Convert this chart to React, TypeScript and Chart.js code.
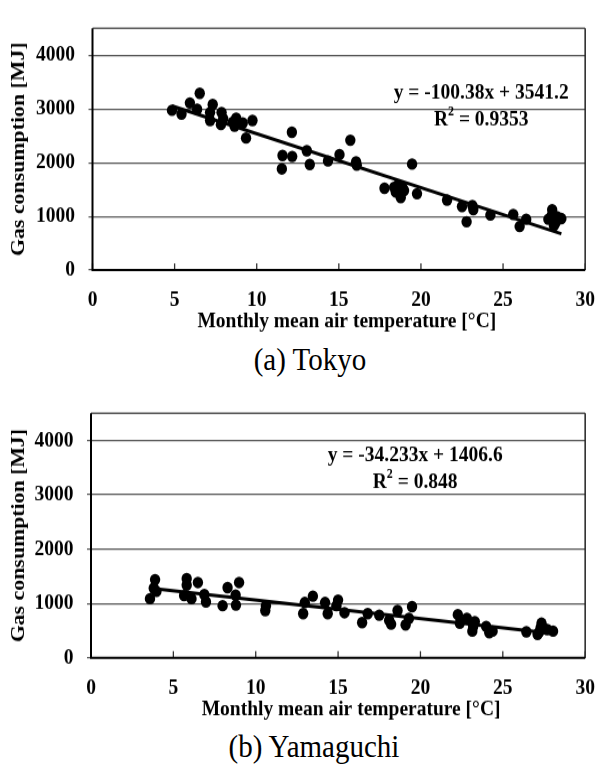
import React, { useEffect, useRef } from "react";
import { Chart, registerables } from "chart.js";

Chart.register(...registerables);

// ---------- data ----------
const xTickValues = [0, 5, 10, 15, 20, 25, 30];
const yTickValues = [0, 1000, 2000, 3000, 4000];

const tokyoTemp = [
  4.84, 5.42, 5.93, 6.53, 6.37, 7.32, 7.16, 7.16, 7.86, 7.82, 7.96, 8.55, 8.75, 8.65, 9.15, 9.74, 9.35,
  12.14, 11.57, 12.16, 11.53, 13.05, 13.23, 14.34, 15.04, 15.7, 16.05, 16.09, 19.46, 17.78, 18.37, 18.47,
  18.87, 18.77, 18.97, 18.6, 19.76, 21.59, 22.5, 22.78, 23.13, 23.19, 24.23, 25.62, 26.01, 26.41, 27.99,
  27.95, 27.76, 28.2, 28.55, 28.29, 28.1,
];
const tokyoGas = [
  2974, 2903, 3111, 3289, 2992, 3081, 2933, 2785, 2933, 2708, 2815, 2755, 2826, 2678, 2737, 2785, 2458,
  2566, 2133, 2115, 1884, 2222, 1967, 2031, 2151, 2418, 2014, 1955, 1973, 1523, 1541, 1452,
  1541, 1351, 1481, 1580, 1422, 1303, 1185, 901, 1203, 1125, 1025, 1037, 812, 947, 1125,
  1010, 947, 888, 959, 995, 830,
];

const yamaguchiTemp = [
  3.89, 3.81, 3.97, 3.58, 5.81, 5.81, 5.65, 6.1, 6.49, 6.88, 6.98, 7.99, 8.29, 8.78, 8.8, 8.99, 10.62,
  10.58, 12.88, 12.98, 13.47, 14.21, 14.37, 15.0, 14.9, 15.39, 16.46, 16.8, 17.5, 18.22, 18.1, 18.61,
  19.1, 19.3, 19.49, 22.27, 22.39, 22.82, 23.15, 23.3, 23.2, 23.99, 24.18, 24.38, 26.43, 27.11, 27.35,
  27.47, 27.7, 28.05, 27.3, 27.2,
];
const yamaguchiGas = [
  1439, 1281, 1222, 1088, 1456, 1339, 1146, 1088, 1386, 1164, 1029, 959, 1292, 1152, 971, 1386, 959,
  871, 813, 1018, 1135, 1018, 813, 1064, 959, 830, 649, 813, 784, 620, 690, 871,
  608, 725, 941, 795, 637, 725, 491, 667, 575, 579, 461, 491, 479, 433, 637,
  549, 520, 491, 560, 470,
];

// regression shown in the picture
const tokyoFit = [-100.38, 3541.2];
const yamaguchiFit = [-34.233, 1406.6];
const tokyoEquation = "y = -100.38x + 3541.2";
const tokyoR2 = "0.9353";
const yamaguchiEquation = "y = -34.233x + 1406.6";
const yamaguchiR2 = "0.848";

const xTitle = "Monthly mean air temperature [°C]";
const yTitle = "Gas consumption [MJ]";

// ---------- component ----------
const SERIF = '"Liberation Serif", "Times New Roman", serif';
const FS = 19.5;
const LH = FS * 1.2;
const STRETCH = 1.12; // the figure is slightly stretched vertically

type PanelProps = {
  temps: number[];
  gas: number[];
  fit: number[];
  equation: string;
  r2: string;
  top: number;
  plotTop: number;
  plotBottom: number;
  labelCenter: number;
  titleCenter: number;
  areaLeft: number;
  areaRight: number;
  titleDx: number;
  eqX: number;
  eqY: number;
  r2Y: number;
};

const decorPlugin = {
  id: "decor",
  beforeDatasetsDraw(chart: any) {
    const { ctx, chartArea: a, scales } = chart;
    const xs = scales.x;
    ctx.save();
    ctx.strokeStyle = "#555";
    ctx.lineWidth = 1.4;
    ctx.beginPath();
    ctx.moveTo(a.left, a.top);
    ctx.lineTo(a.right, a.top);
    ctx.stroke();
    ctx.strokeStyle = "#222";
    ctx.lineWidth = 1.5;
    ctx.beginPath();
    ctx.moveTo(a.right, a.top);
    ctx.lineTo(a.right, a.bottom);
    ctx.stroke();
    ctx.strokeStyle = "#333";
    ctx.lineWidth = 1.3;
    xs.ticks.forEach((t: any) => {
      const px = xs.getPixelForValue(t.value);
      ctx.beginPath();
      ctx.moveTo(px, a.bottom);
      ctx.lineTo(px, a.bottom - 6);
      ctx.stroke();
    });
    ctx.strokeStyle = "#000";
    ctx.lineWidth = 2;
    ctx.beginPath();
    ctx.moveTo(a.left, a.top);
    ctx.lineTo(a.left, a.bottom);
    ctx.lineTo(a.right, a.bottom);
    ctx.stroke();
    ctx.restore();
  },
  afterDraw(chart: any, _args: any, opts: any) {
    const { ctx, chartArea: a, scales } = chart;
    const cx = a.left + (a.right - a.left) * opts.eqX;
    const y1 = a.top + (a.bottom - a.top) * opts.eqY;
    const y2 = a.top + (a.bottom - a.top) * opts.r2Y;
    ctx.save();
    ctx.fillStyle = "#000";
    ctx.textBaseline = "middle";
    ctx.textAlign = "center";
    ctx.font = `bold ${FS}px ${SERIF}`;
    ctx.fillText(opts.equation, cx, y1);
    // x-axis title
    const xs = scales.x;
    ctx.fillText(opts.xTitle, (a.left + a.right) / 2 + opts.titleDx, xs.bottom - LH / 2);
    // R² line
    const pR = "R";
    const pRest = " = " + opts.r2;
    const wR = ctx.measureText(pR).width;
    const wRest = ctx.measureText(pRest).width;
    ctx.font = `bold 12px ${SERIF}`;
    const w2 = ctx.measureText("2").width;
    const total = wR + w2 + wRest;
    let x = cx - total / 2;
    ctx.textAlign = "left";
    ctx.font = `bold ${FS}px ${SERIF}`;
    ctx.fillText(pR, x, y2);
    x += wR;
    ctx.font = `bold 12px ${SERIF}`;
    ctx.fillText("2", x, y2 - 7);
    x += w2;
    ctx.font = `bold ${FS}px ${SERIF}`;
    ctx.fillText(pRest, x, y2);
    ctx.restore();
  },
};

function Panel(p: PanelProps) {
  const ref = useRef<HTMLCanvasElement | null>(null);
  const intPlotTop = (p.plotTop - p.top) / STRETCH;
  const intPlotBottom = (p.plotBottom - p.top) / STRETCH;
  const intTitle = (p.titleCenter - p.top) / STRETCH;
  const intLabel = (p.labelCenter - p.top) / STRETCH;
  const attrH = Math.round(intTitle + LH / 2);
  const axisH = attrH - intPlotBottom;
  const labelPad = intLabel - intPlotBottom - LH / 2;

  useEffect(() => {
    if (!ref.current) return;
    const minX = Math.min(...p.temps);
    const maxX = Math.max(...p.temps);
    const points = p.temps.map((t, i) => ({ x: t, y: p.gas[i] }));
    const trend = [
      { x: minX, y: p.fit[0] * minX + p.fit[1] },
      { x: maxX, y: p.fit[0] * maxX + p.fit[1] },
    ];
    const padLeft = 7;
    const tickFont = { family: SERIF, size: FS, weight: "bold" as const, lineHeight: 1.2 };
    const chart = new Chart(ref.current, {
      type: "scatter",
      data: {
        datasets: [
          {
            type: "line" as any,
            data: trend,
            borderColor: "#000",
            borderWidth: 3,
            pointRadius: 0,
            showLine: true,
            fill: false,
          } as any,
          {
            data: points,
            backgroundColor: "#000",
            borderColor: "#000",
            pointRadius: 5.2,
            borderWidth: 0,
          },
        ],
      },
      options: {
        animation: false,
        responsive: false,
        devicePixelRatio: 1,
        layout: {
          padding: { left: padLeft, right: 610 - p.areaRight, top: intPlotTop, bottom: 0 },
        },
        plugins: {
          legend: { display: false },
          tooltip: { enabled: false },
          decor: {
            equation: p.equation,
            r2: p.r2,
            eqX: p.eqX,
            eqY: p.eqY,
            r2Y: p.r2Y,
            xTitle,
            titleDx: p.titleDx,
          },
        } as any,
        scales: {
          x: {
            type: "linear",
            min: 0,
            max: 30,
            afterBuildTicks: (s: any) => {
              s.ticks = xTickValues.map((v) => ({ value: v }));
            },
            afterFit: (s: any) => {
              s.height = axisH;
            },
            grid: { display: false, drawTicks: false },
            border: { display: false },
            ticks: {
              color: "#000",
              font: tickFont,
              padding: labelPad,
              maxRotation: 0,
              callback: (v: any) => String(v),
            },
          },
          y: {
            type: "linear",
            min: 0,
            max: 4500,
            afterBuildTicks: (s: any) => {
              s.ticks = yTickValues.map((v) => ({ value: v }));
            },
            afterFit: (s: any) => {
              s.width = p.areaLeft - padLeft;
            },
            grid: { color: "#555", lineWidth: 1.2, drawTicks: true, tickLength: 4 },
            border: { display: false },
            ticks: { color: "#000", font: tickFont, padding: 13.5, callback: (v: any) => String(v) },
            title: {
              display: true,
              text: yTitle,
              color: "#000",
              font: tickFont,
              padding: 0,
            },
          },
        },
      },
      plugins: [decorPlugin],
    });
    return () => chart.destroy();
  }, []);
  return (
    <canvas
      ref={ref}
      width={610}
      height={attrH}
      style={{
        position: "absolute",
        left: 0,
        top: p.top,
        width: 610,
        height: attrH * STRETCH,
        display: "block",
      }}
    />
  );
}

const captionStyle: React.CSSProperties = {
  position: "absolute",
  fontFamily: SERIF,
  fontSize: 29,
  lineHeight: "34px",
  height: 34,
  whiteSpace: "nowrap",
  transform: `translateX(-50%) scaleY(${STRETCH})`,
  color: "#000",
};

export default function App() {
  return (
    <div
      style={{
        position: "fixed",
        left: 0,
        top: 0,
        width: 610,
        height: 764,
        overflow: "hidden",
        background: "#fff",
      }}
    >
      <Panel
        temps={tokyoTemp}
        gas={tokyoGas}
        fit={tokyoFit}
        equation={tokyoEquation}
        r2={tokyoR2}
        top={0}
        plotTop={18}
        plotBottom={270}
        labelCenter={300}
        titleCenter={322}
        areaLeft={92.5}
        areaRight={596.5}
        titleDx={8}
        eqX={0.789}
        eqY={0.266}
        r2Y={0.377}
      />
      <div style={{ ...captionStyle, left: 310, top: 342 }}>(a) Tokyo</div>
      <Panel
        temps={yamaguchiTemp}
        gas={yamaguchiGas}
        fit={yamaguchiFit}
        equation={yamaguchiEquation}
        r2={yamaguchiR2}
        top={385}
        plotTop={403}
        plotBottom={658}
        labelCenter={688}
        titleCenter={710}
        areaLeft={91}
        areaRight={602}
        titleDx={13}
        eqX={0.656}
        eqY={0.173}
        r2Y={0.282}
      />
      <div style={{ ...captionStyle, left: 314, top: 729 }}>(b) Yamaguchi</div>
    </div>
  );
}
